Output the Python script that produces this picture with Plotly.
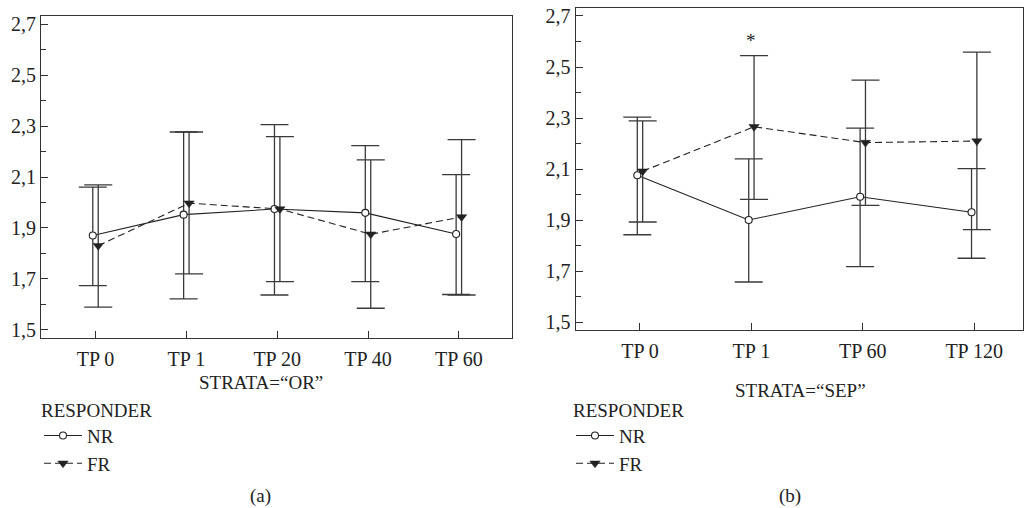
import plotly.graph_objects as go

# ---------------- data ----------------
left_categories = ["TP 0", "TP 1", "TP 20", "TP 40", "TP 60"]
left_nr_mean = [1.870, 1.952, 1.974, 1.959, 1.876]
left_nr_low = [1.673, 1.621, 1.636, 1.689, 1.638]
left_nr_high = [2.060, 2.277, 2.306, 2.223, 2.109]
left_fr_mean = [1.830, 1.997, 1.974, 1.875, 1.943]
left_fr_low = [1.588, 1.719, 1.689, 1.584, 1.636]
left_fr_high = [2.069, 2.277, 2.259, 2.167, 2.247]

right_categories = ["TP 0", "TP 1", "TP 60", "TP 120"]
right_nr_mean = [2.076, 1.901, 1.992, 1.931]
right_nr_low = [1.843, 1.658, 1.718, 1.751]
right_nr_high = [2.304, 2.140, 2.261, 2.102]
right_fr_mean = [2.092, 2.266, 2.204, 2.210]
right_fr_low = [1.893, 1.982, 1.958, 1.863]
right_fr_high = [2.289, 2.545, 2.449, 2.558]

y_tick_values = [1.5, 1.7, 1.9, 2.1, 2.3, 2.5, 2.7]
y_tick_labels = ["1,5", "1,7", "1,9", "2,1", "2,3", "2,5", "2,7"]

left_strata = "STRATA=\u201cOR\u201d"
right_strata = "STRATA=\u201cSEP\u201d"
significant_index = 1  # asterisk over FR at TP 1 (right panel)

# ---------------- style ----------------
FONT = "Liberation Serif, Times New Roman, serif"
INK = "#222222"
BAR = "#3a3a3a"
FS = 19
TFS = 20
W, H = 1030, 508


def px_x(p):
    return p / W


def px_y(p):
    return 1 - p / H


fig = go.Figure()


def add_panel(cats, nr_m, nr_lo, nr_hi, fr_m, fr_lo, fr_hi, xa, ya, off, legend):
    idx = list(range(len(cats)))
    nr_x = [i - off for i in idx]
    fr_x = [i + off for i in idx]
    fig.add_trace(go.Scatter(
        x=nr_x, y=nr_m, mode="lines+markers", name="NR",
        xaxis=xa, yaxis=ya, legend=legend,
        line=dict(color=INK, width=1.1),
        marker=dict(symbol="circle", size=7, color="white",
                    line=dict(color=INK, width=1.1)),
        error_y=dict(type="data", symmetric=False,
                     array=[h - m for h, m in zip(nr_hi, nr_m)],
                     arrayminus=[m - l for m, l in zip(nr_m, nr_lo)],
                     color=BAR, thickness=1.3, width=14),
    ))
    fig.add_trace(go.Scatter(
        x=fr_x, y=fr_m, mode="lines+markers", name="FR",
        xaxis=xa, yaxis=ya, legend=legend,
        line=dict(color=INK, width=1.1, dash="7px,4px"),
        marker=dict(symbol="triangle-down", size=9, color=INK,
                    line=dict(color=INK, width=0.5)),
        error_y=dict(type="data", symmetric=False,
                     array=[h - m for h, m in zip(fr_hi, fr_m)],
                     arrayminus=[m - l for m, l in zip(fr_m, fr_lo)],
                     color=BAR, thickness=1.3, width=14),
    ))


add_panel(left_categories, left_nr_mean, left_nr_low, left_nr_high,
          left_fr_mean, left_fr_low, left_fr_high, "x", "y", 0.03, "legend")
add_panel(right_categories, right_nr_mean, right_nr_low, right_nr_high,
          right_fr_mean, right_fr_low, right_fr_high, "x2", "y2", 0.024, "legend2")

axis_common = dict(
    showline=True, mirror=True, linecolor="#333333", linewidth=1.2,
    showgrid=False, zeroline=False, ticks="inside", tickcolor="#333333",
    ticklen=7, tickwidth=1.2, automargin=False,
    tickfont=dict(family=FONT, size=TFS, color=INK),
)

legend_common = dict(
    xanchor="left", yanchor="top",
    title=dict(text="RESPONDER", font=dict(family=FONT, size=FS)),
    font=dict(family=FONT, size=FS, color=INK),
    bgcolor="rgba(0,0,0,0)", itemwidth=38, tracegroupgap=0,
)

fig.update_layout(
    width=W, height=H,
    margin=dict(l=0, r=0, t=0, b=0, autoexpand=False),
    paper_bgcolor="white", plot_bgcolor="white",
    font=dict(family=FONT, size=FS, color=INK),
    xaxis=dict(domain=[px_x(41), px_x(512)], range=[-0.6, 4.585],
               tickvals=list(range(len(left_categories))),
               ticktext=left_categories, anchor="y", ticklabelstandoff=3,
               **axis_common),
    yaxis=dict(domain=[px_y(338), px_y(16)], range=[1.467, 2.733],
               tickvals=y_tick_values, ticktext=y_tick_labels, anchor="x",
               minor=dict(ticks="inside", dtick=0.1, ticklen=5,
                          tickcolor="#333333", tickwidth=1),
               **axis_common),
    xaxis2=dict(domain=[px_x(575.7), px_x(1023)], range=[-0.577, 3.438],
                tickvals=list(range(len(right_categories))),
                ticktext=right_categories, anchor="y2", ticklabelstandoff=3,
                **axis_common),
    yaxis2=dict(domain=[px_y(330), px_y(8.3)], range=[1.470, 2.730],
                tickvals=y_tick_values, ticktext=y_tick_labels, anchor="x2",
                minor=dict(ticks="inside", dtick=0.1, ticklen=5,
                           tickcolor="#333333", tickwidth=1),
                **axis_common),
    legend=dict(x=px_x(39), y=px_y(392), **legend_common),
    legend2=dict(x=px_x(571), y=px_y(392), **legend_common),
    showlegend=True,
)

annos = [
    dict(text=left_strata, x=px_x(261), y=px_y(382)),
    dict(text=right_strata, x=px_x(800), y=px_y(390)),
    dict(text="(a)", x=px_x(260), y=px_y(496)),
    dict(text="(b)", x=px_x(790), y=px_y(496)),
]
for a in annos:
    fig.add_annotation(xref="paper", yref="paper", showarrow=False,
                       xanchor="center", yanchor="middle",
                       font=dict(family=FONT, size=FS, color=INK), **a)

fig.add_annotation(xref="x2", yref="y2", x=significant_index,
                   y=right_fr_high[significant_index] + 0.06,
                   text="*", showarrow=False, yanchor="middle",
                   font=dict(family=FONT, size=FS, color=INK))

fig.write_html(
    "out.html",
    config={"displayModeBar": False},
    post_script="document.body.style.margin='0';document.body.style.overflow='hidden';",
)
